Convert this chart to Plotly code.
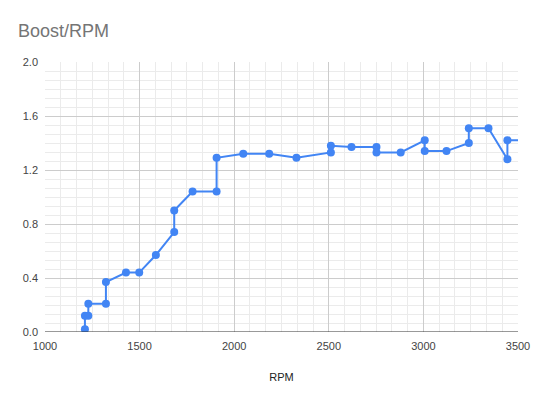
import plotly.graph_objects as go

rpm = [1211, 1211, 1229, 1229, 1322, 1322, 1428, 1498, 1586, 1683, 1683, 1780, 1907, 1907,
       2048, 2185, 2329, 2511, 2511, 2620, 2752, 2752, 2880, 3007, 3007, 3122, 3240, 3240,
       3344, 3444, 3444, 3600]
boost = [0.02, 0.12, 0.12, 0.21, 0.21, 0.37, 0.44, 0.44, 0.57, 0.74, 0.90, 1.04, 1.04, 1.29,
         1.32, 1.32, 1.29, 1.33, 1.38, 1.37, 1.37, 1.33, 1.33, 1.42, 1.34, 1.34, 1.40, 1.51,
         1.51, 1.28, 1.42, 1.42]
x_ticks = [1000, 1500, 2000, 2500, 3000, 3500]
y_ticks = [0.0, 0.4, 0.8, 1.2, 1.6, 2.0]
y_tick_labels = ["0.0", "0.4", "0.8", "1.2", "1.6", "2.0"]

fig = go.Figure()
fig.add_trace(go.Scatter(
    x=rpm, y=boost, mode="lines+markers",
    line=dict(color="#4285F4", width=2),
    marker=dict(color="#4285F4", size=8),
    cliponaxis=True, showlegend=False,
))

font = "Liberation Sans, Arial, sans-serif"
fig.update_layout(
    width=539, height=399,
    margin=dict(l=45, r=21, t=62, b=67, autoexpand=False),
    paper_bgcolor="white", plot_bgcolor="white",
    font=dict(family=font, size=11, color="#444444"),
    title=dict(text="Boost/RPM", x=18/539, xref="container", xanchor="left",
               y=1 - 31/399, yref="container", yanchor="middle",
               font=dict(size=18, color="#757575", family=font)),
    xaxis=dict(
        range=[1000, 3500], tickvals=x_ticks, ticktext=[str(v) for v in x_ticks],
        showgrid=True, gridcolor="#cccccc", gridwidth=1,
        minor=dict(dtick=500/6, tick0=1000, showgrid=True, gridcolor="#ebebeb", gridwidth=1),
        zeroline=False, showline=False, ticks="", automargin=False,
        ticklabelstandoff=6,
        title=dict(text="RPM", font=dict(size=11, color="#222222"), standoff=22),
        tickfont=dict(size=11, color="#444444"),
    ),
    yaxis=dict(
        range=[0, 2.0], tickvals=y_ticks, ticktext=y_tick_labels,
        showgrid=True, gridcolor="#cccccc", gridwidth=1,
        minor=dict(dtick=0.4/6, tick0=0, showgrid=True, gridcolor="#ebebeb", gridwidth=1),
        zeroline=False, showline=False, ticks="", automargin=False,
        ticklabelstandoff=6,
        tickfont=dict(size=11, color="#444444"),
    ),
)
fig.add_shape(type="line", xref="paper", yref="y", x0=0, x1=1, y0=0, y1=0,
              line=dict(color="#333333", width=1), layer="above")
fig.write_html("out.html")
